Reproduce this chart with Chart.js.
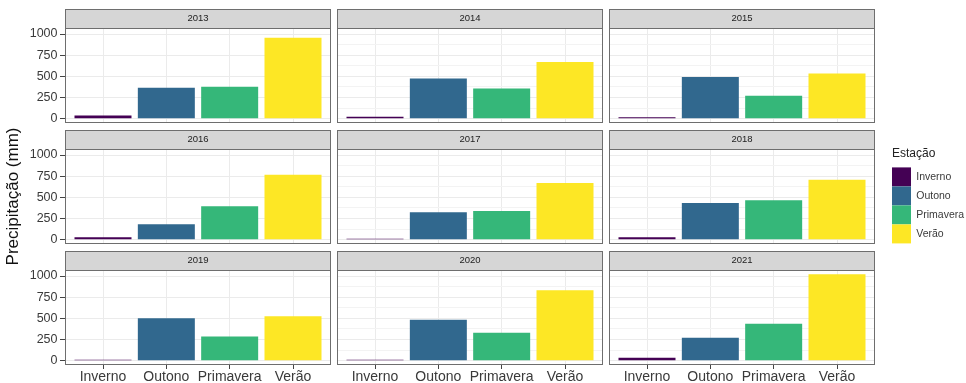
<!DOCTYPE html>
<html lang="pt">
<head>
<meta charset="utf-8">
<title>Precipitação por estação</title>
<script src="https://cdn.jsdelivr.net/npm/chart.js@4.4.1/dist/chart.umd.min.js"></script>
<style>
  html, body { margin: 0; padding: 0; background: #fff; overflow: hidden; }
  #wrap { position: relative; width: 966px; height: 383px; }
  #wrap canvas { position: absolute; }
</style>
</head>
<body>
<div id="wrap"></div>
<script>
// precipitation (mm) per season, one entry per year
const years = ['2013', '2014', '2015', '2016', '2017', '2018', '2019', '2020', '2021'];
const seasons = ['Inverno', 'Outono', 'Primavera', 'Verão'];
const inverno = [38, 24, 16, 28, 12, 28, 12, 10, 34];
const outono = [366, 476, 492, 181, 323, 433, 502, 482, 271];
const primavera = [378, 355, 272, 394, 338, 465, 286, 329, 435];
const verao = [957, 669, 535, 768, 669, 709, 526, 832, 1020];
const seasonColors = ['#440154', '#31688E', '#35B779', '#FDE725'];
const yTicks = [0, 125, 250, 375, 500, 625, 750, 875, 1000];

const FONT = "'Liberation Sans', Arial, Helvetica, sans-serif";
Chart.defaults.font.family = FONT;
Chart.defaults.animation = false;

// facet grid geometry (px)
const colLeft = [65, 337, 609];
const rowTop = [9, 130, 251];
const PANEL_W = 266, PLOT_H = 95, STRIP_H = 19, XAXIS_H = 18;
// extra room above/below the middle-left panel so the long y title fits
const TITLE_EXTRA_TOP = 14, TITLE_EXTRA_BOTTOM = 34;

// shared y range, ggplot-style 5% expansion
const allVals = inverno.concat(outono, primavera, verao);
const maxVal = Math.max(...allVals);
const yMin = -0.05 * maxVal, yMax = 1.05 * maxVal;

const wrap = document.getElementById('wrap');
function makeCanvas(x, y, w, h) {
  const c = document.createElement('canvas');
  c.width = w; c.height = h;
  c.style.left = x + 'px'; c.style.top = y + 'px';
  c.style.width = w + 'px'; c.style.height = h + 'px';
  wrap.appendChild(c);
  return c;
}

// grey strip behind the year label, border around the panel
const facetFrame = {
  id: 'facetFrame',
  beforeDraw(chart) {
    const { ctx, chartArea: a } = chart;
    ctx.save();
    ctx.fillStyle = '#d6d6d6';
    ctx.fillRect(a.left, a.top - STRIP_H, a.right - a.left, STRIP_H);
    ctx.strokeStyle = '#6e6e6e';
    ctx.lineWidth = 1;
    ctx.strokeRect(a.left + 0.5, a.top - STRIP_H + 0.5, a.right - a.left - 1, STRIP_H);
    ctx.restore();
  },
  afterDraw(chart) {
    const { ctx, chartArea: a } = chart;
    ctx.save();
    ctx.strokeStyle = '#6e6e6e';
    ctx.lineWidth = 1;
    ctx.strokeRect(a.left + 0.5, a.top + 0.5, a.right - a.left - 1, a.bottom - a.top - 1);
    ctx.restore();
  }
};

years.forEach((year, i) => {
  const r = Math.floor(i / 3), c = i % 3;
  const firstCol = c === 0, lastRow = r === 2;
  const hasTitle = firstCol && r === 1;
  const axisW = firstCol ? colLeft[0] : 0;
  const padTop = hasTitle ? TITLE_EXTRA_TOP : 0;
  const padBottom = lastRow ? 0 : (hasTitle ? TITLE_EXTRA_BOTTOM : 1);
  const left = colLeft[c] - axisW;
  const w = axisW + PANEL_W + 1;
  const h = padTop + STRIP_H + PLOT_H + (lastRow ? XAXIS_H : padBottom);
  const canvas = makeCanvas(left, rowTop[r] - padTop, w, h);

  const values = [inverno[i], outono[i], primavera[i], verao[i]];

  new Chart(canvas, {
    type: 'bar',
    data: {
      datasets: [{
        data: values.map((v, k) => ({ x: k + 1, y: v })),
        backgroundColor: seasonColors,
        borderWidth: 0,
        barPercentage: 0.9,
        categoryPercentage: 1
      }]
    },
    options: {
      responsive: false,
      devicePixelRatio: 1,
      layout: { padding: { left: 0, top: padTop, right: 1, bottom: padBottom } },
      plugins: {
        legend: { display: false },
        tooltip: { enabled: false },
        title: {
          display: true,
          text: year,
          fullSize: false,
          color: '#222',
          font: { size: 9.5, weight: 'normal', lineHeight: '12px' },
          padding: { top: 3.5, bottom: 3.5 }
        }
      },
      scales: {
        x: {
          type: 'linear',
          min: 0.4,
          max: 4.6,
          offset: false,
          border: { display: false },
          grid: {
            offset: false,
            color: '#ebebeb',
            drawTicks: lastRow,
            tickLength: 4,
            tickColor: '#444'
          },
          afterBuildTicks: s => { s.ticks = seasons.map((n, k) => ({ value: k + 1 })); },
          ticks: {
            display: lastRow,
            autoSkip: false,
            maxRotation: 0,
            minRotation: 0,
            padding: 0,
            color: '#3a3a3a',
            font: { size: 14 },
            callback: v => seasons[v - 1]
          },
          afterFit: s => {
            s.height = lastRow ? XAXIS_H : 0;
            s.paddingLeft = 0; s.paddingRight = 0;
          }
        },
        y: {
          min: yMin,
          max: yMax,
          border: { display: false },
          grid: {
            color: ctx => ctx.tick && ctx.tick.value % 250 === 0 ? '#ebebeb' : '#f3f3f3',
            drawTicks: firstCol,
            tickLength: 5,
            tickColor: ctx => ctx.tick && ctx.tick.value % 250 === 0 ? '#444' : 'rgba(0,0,0,0)'
          },
          afterBuildTicks: s => { s.ticks = yTicks.map(v => ({ value: v })); },
          ticks: {
            display: firstCol,
            padding: 2.5,
            color: '#3a3a3a',
            font: { size: 12.5 },
            callback: v => (v % 250 === 0 ? String(v) : '')
          },
          title: {
            display: hasTitle,
            text: 'Precipitação (mm)',
            color: '#111',
            font: { size: 17 },
            padding: { top: 3, bottom: 0 }
          },
          afterFit: s => {
            s.width = axisW;
            s.paddingTop = 0; s.paddingBottom = 0;
          }
        }
      }
    },
    plugins: [facetFrame]
  });
});

// legend for the fill colours
new Chart(makeCanvas(892, 143, 74, 110), {
  type: 'bar',
  data: {
    labels: [],
    datasets: seasons.map((s, k) => ({
      label: s,
      data: [],
      backgroundColor: seasonColors[k],
      borderColor: seasonColors[k],
      borderWidth: 0
    }))
  },
  options: {
    responsive: false,
    devicePixelRatio: 1,
    scales: { x: { display: false }, y: { display: false } },
    plugins: {
      tooltip: { enabled: false },
      legend: {
        position: 'left',
        align: 'start',
        maxWidth: 74,
        title: {
          display: true,
          text: 'Estação',
          position: 'start',
          color: '#222',
          font: { size: 12 },
          padding: { top: 5, bottom: 5 }
        },
        labels: {
          boxWidth: 19,
          boxHeight: 19,
          padding: 0,
          color: '#3a3a3a',
          font: { size: 10.5 }
        }
      }
    }
  }
});
</script>
</body>
</html>
